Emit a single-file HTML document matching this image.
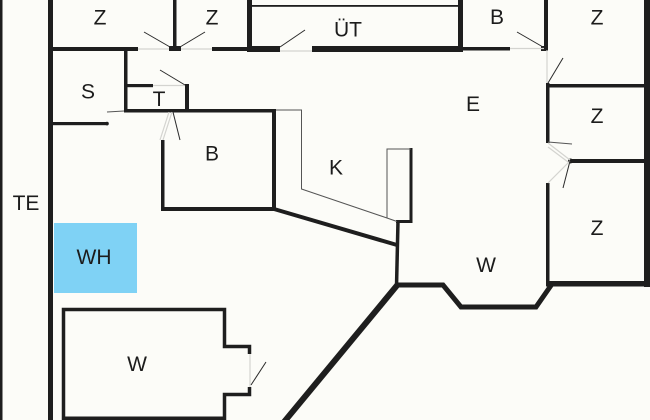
<!DOCTYPE html>
<html><head><meta charset="utf-8"><style>
html,body{margin:0;padding:0;background:#fcfcf8;}
svg{display:block;}
text{font-family:"Liberation Sans",Arial,sans-serif;font-size:21px;fill:#1c1c1c;text-anchor:middle;}
</style></head><body>
<svg width="650" height="420" viewBox="0 0 650 420" xmlns="http://www.w3.org/2000/svg">
<rect width="650" height="420" fill="#fcfcf8"/>
<g fill="#1e1e1e">
<!-- left lines -->
<rect x="0" y="0" width="2.5" height="420"/>
<rect x="48" y="0" width="5" height="420"/>
<!-- top row walls -->
<rect x="48" y="47" width="90" height="4"/>
<rect x="169" y="46" width="12" height="5"/>
<rect x="173" y="0" width="3.5" height="50"/>
<rect x="212" y="47" width="36" height="4"/>
<rect x="247" y="0" width="5" height="52"/>
<rect x="247" y="46" width="33" height="6"/>
<rect x="312" y="46" width="151" height="6"/>
<rect x="458" y="0" width="5" height="52"/>
<rect x="252" y="5" width="206" height="1.8"/>
<rect x="463" y="47" width="47" height="3.5"/>
<rect x="544" y="0" width="4" height="50"/>
<rect x="541" y="46" width="7" height="5"/>
<!-- right side -->
<rect x="546" y="83" width="3.5" height="60"/>
<rect x="546" y="84" width="100" height="3.5"/>
<rect x="644" y="0" width="6" height="287"/>
<rect x="570" y="159" width="76" height="4"/>
<circle cx="570.5" cy="161" r="2.5"/>
<rect x="546" y="183" width="3.5" height="103"/>
<rect x="546" y="281" width="104" height="5.5"/>
<!-- S / T -->
<rect x="124" y="48" width="3.5" height="64"/>
<rect x="53" y="122" width="55" height="3.2"/>
<circle cx="107" cy="123.6" r="1.8"/>
<rect x="127" y="84" width="26" height="3.2"/>
<rect x="185" y="84" width="4" height="27"/>
<!-- B room -->
<rect x="124" y="109" width="152" height="3.5"/>
<rect x="272" y="109" width="4" height="101"/>
<rect x="161" y="207" width="115" height="4"/>
<rect x="161" y="140" width="3.5" height="70"/>
<!-- K small box right thick -->
<rect x="409.5" y="148" width="3" height="75"/>
<!-- W lower-left -->
<rect x="62" y="416.5" width="164" height="3.5"/>
</g>
<!-- WH -->
<rect x="54" y="223" width="83" height="70" fill="#7fd2f5"/>
<!-- thick polylines -->
<g fill="none" stroke="#1e1e1e" stroke-linejoin="miter">
<polyline points="397,285 443,285 461,307 536,307 552,284" stroke-width="5"/>
<line x1="399" y1="283" x2="284" y2="422" stroke-width="6"/>
<line x1="398" y1="221" x2="396.5" y2="287" stroke-width="3.5"/>
<line x1="274" y1="209" x2="397" y2="245" stroke-width="4"/>
<line x1="396" y1="221.5" x2="412" y2="221.5" stroke-width="3"/>
<polyline points="63.5,420 63.5,309.5 224.5,309.5 224.5,346.5 249.5,346.5 249.5,354" stroke-width="3.5"/>
<polyline points="249.5,387 249.5,394.5 224.5,394.5 224.5,420" stroke-width="3.5"/>
</g>
<!-- thin lines -->
<g fill="none" stroke="#555" stroke-width="1">
<polyline points="276,110 301.5,110 301.5,189 387,218 397,221.5"/>
<polyline points="387,218 387,149 411,149"/>
<line x1="107" y1="112" x2="124" y2="111"/>
<line x1="548" y1="142" x2="572" y2="144"/>
</g>
<!-- light gray door gaps -->
<g fill="none" stroke="#d4d4d0" stroke-width="1.2">
<line x1="138" y1="49" x2="169" y2="49"/>
<line x1="181" y1="49" x2="212" y2="49"/>
<line x1="280" y1="51" x2="312" y2="51"/>
<line x1="510" y1="48.5" x2="544" y2="48.5"/>
<line x1="547" y1="50" x2="547" y2="83"/>
<line x1="153" y1="85.5" x2="185" y2="85.5"/>
<line x1="548" y1="143" x2="570" y2="160"/>
<line x1="548" y1="147" x2="568" y2="162"/>
<line x1="548" y1="183" x2="570" y2="161"/>
<line x1="163" y1="140" x2="172" y2="112"/>
<line x1="160" y1="140" x2="169" y2="112"/>
<line x1="250" y1="354" x2="250" y2="387"/>
</g>
<!-- door swings -->
<g fill="none" stroke="#2a2a2a" stroke-width="1">
<line x1="144" y1="32" x2="170" y2="47"/>
<line x1="205" y1="32" x2="180" y2="47"/>
<line x1="280" y1="47" x2="305" y2="30"/>
<line x1="517" y1="32" x2="543" y2="47"/>
<line x1="548" y1="83" x2="563" y2="58"/>
<line x1="570" y1="161" x2="563" y2="188"/>
<line x1="160" y1="70" x2="185" y2="85"/>
<line x1="173" y1="112" x2="180" y2="140"/>
<line x1="251" y1="385" x2="266" y2="362"/>
</g>
<!-- labels -->
<text x="100" y="24.5">Z</text>
<text x="212" y="24.5">Z</text>
<text x="348" y="36.5">ÜT</text>
<text x="497" y="24">B</text>
<text x="597" y="24.5">Z</text>
<text x="88" y="98.5">S</text>
<text x="159" y="106">T</text>
<text x="473" y="111">E</text>
<text x="212" y="160.5">B</text>
<text x="336" y="174.5">K</text>
<text x="597" y="123">Z</text>
<text x="26" y="210">TE</text>
<text x="94" y="264">WH</text>
<text x="486" y="272">W</text>
<text x="597" y="235">Z</text>
<text x="137" y="371">W</text>
</svg>
</body></html>
